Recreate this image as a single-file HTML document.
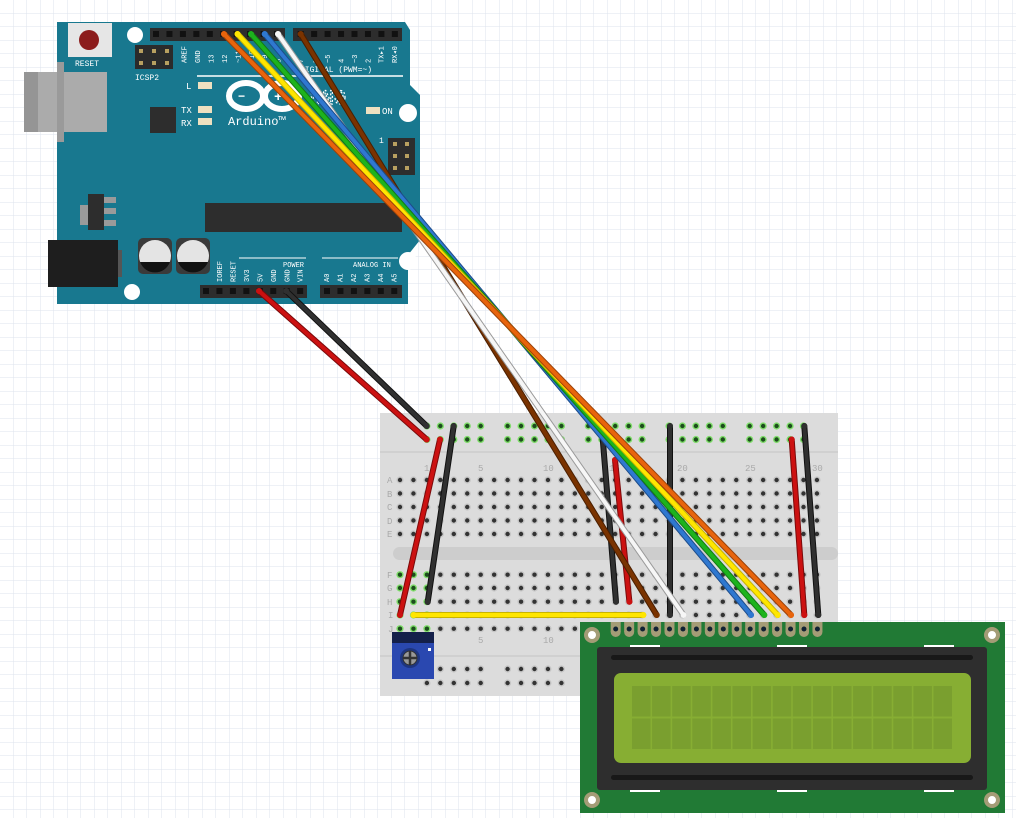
<!DOCTYPE html>
<html><head><meta charset="utf-8"><style>
html,body{margin:0;padding:0;background:#fff;}
svg{display:block}
text{font-family:"Liberation Mono",monospace;}
</style></head><body>
<svg id="s" width="1016" height="818" viewBox="0 0 1016 818" xmlns="http://www.w3.org/2000/svg">
<defs>
<pattern id="grid" width="13.5" height="13.5" patternUnits="userSpaceOnUse">
<path d="M13.5 0V13.5H0" fill="none" stroke="#dde3ec" stroke-width="1"/>
</pattern>
</defs>
<rect width="1016" height="818" fill="#fff"/>
<rect width="1016" height="818" fill="url(#grid)"/>

<!-- Arduino -->
<polygon points="57,22 405,22 410,30 410,85 420,95 420,240 408,255 408,304 57,304" fill="#18788f"/>
<rect x="24" y="72" width="83" height="60" fill="#ababab"/>
<rect x="24" y="72" width="14" height="60" fill="#959595"/>
<rect x="57" y="62" width="7" height="80" fill="#9a9a9a"/>
<rect x="68" y="23" width="44" height="34" fill="#e6e6e6"/>
<circle cx="89" cy="40" r="10" fill="#8c1c1c"/>
<text x="75" y="66" font-size="8" fill="#fff">RESET</text>
<rect x="135" y="45" width="38" height="24" fill="#2b2b2b"/>
<g fill="#b8a060"><rect x="139" y="49" width="4" height="4"/><rect x="152" y="49" width="4" height="4"/><rect x="165" y="49" width="4" height="4"/><rect x="139" y="61" width="4" height="4"/><rect x="152" y="61" width="4" height="4"/><rect x="165" y="61" width="4" height="4"/></g>
<text x="135" y="80" font-size="8" fill="#fff">ICSP2</text>
<rect x="150" y="107" width="26" height="26" fill="#2d2d2d"/>
<rect x="80" y="205" width="10" height="20" fill="#9a9a9a"/>
<rect x="88" y="194" width="16" height="36" fill="#2d2d2d"/>
<rect x="104" y="197" width="12" height="6" fill="#9a9a9a"/><rect x="104" y="208" width="12" height="6" fill="#9a9a9a"/><rect x="104" y="220" width="12" height="6" fill="#9a9a9a"/>
<rect x="48" y="240" width="70" height="47" fill="#1e1e1e"/>
<rect x="118" y="250" width="4" height="27" fill="#555"/>
<rect x="138" y="238" width="34" height="36" rx="5" fill="#3a3a3a"/>
<rect x="176" y="238" width="34" height="36" rx="5" fill="#3a3a3a"/>
<circle cx="155" cy="256" r="16" fill="#e4e4e4"/><path d="M140 262 A16 16 0 0 0 170 262Z" fill="#111"/>
<circle cx="193" cy="256" r="16" fill="#e4e4e4"/><path d="M178 262 A16 16 0 0 0 208 262Z" fill="#111"/>
<rect x="205" y="203" width="197" height="29" fill="#2d2d2d"/>
<circle cx="135" cy="35" r="8" fill="#fff"/>
<circle cx="132" cy="292" r="8" fill="#fff"/>
<circle cx="408" cy="113" r="9" fill="#fff"/>
<circle cx="408" cy="261" r="9" fill="#fff"/>
<!-- headers -->
<rect x="150" y="28" width="135" height="13" fill="#2d2d2d"/>
<rect x="293" y="28" width="109" height="13" fill="#2d2d2d"/>
<rect x="200" y="285" width="107" height="13" fill="#2d2d2d"/>
<rect x="320" y="285" width="82" height="13" fill="#2d2d2d"/>
<g id="hp" fill="#111"></g>
<rect x="388" y="138" width="27" height="37" fill="#2d2d2d"/>
<g fill="#b8a060"><rect x="393" y="142" width="4" height="4"/><rect x="405" y="142" width="4" height="4"/><rect x="393" y="154" width="4" height="4"/><rect x="405" y="154" width="4" height="4"/><rect x="393" y="166" width="4" height="4"/><rect x="405" y="166" width="4" height="4"/></g>
<text x="379" y="143" font-size="8" fill="#fff">1</text>
<line x1="197" y1="76" x2="403" y2="76" stroke="#fff" stroke-width="1.5"/>
<line x1="239" y1="258" x2="306" y2="258" stroke="#fff" stroke-width="1"/>
<line x1="322" y1="258" x2="398" y2="258" stroke="#fff" stroke-width="1"/>
<text x="300" y="72" font-size="8" fill="#fff">DIGITAL (PWM=~)</text>
<text x="283" y="267" font-size="7" fill="#fff">POWER</text>
<text x="353" y="267" font-size="7" fill="#fff">ANALOG IN</text>
<g font-size="7" fill="#fff" id="plab"></g>
<g stroke="#fff" stroke-width="6" fill="none">
<ellipse cx="246" cy="96" rx="17" ry="13"/><ellipse cx="282" cy="96" rx="17" ry="13"/>
</g>
<text x="238" y="100" font-size="12" fill="#fff" font-weight="bold">−</text>
<text x="274" y="101" font-size="14" fill="#fff" font-weight="bold">+</text>
<text x="310" y="104" font-size="20" fill="none" stroke="#fff" stroke-width="1.2" stroke-dasharray="2 2">UNO</text>
<text x="228" y="125" font-size="12" fill="#fff">Arduino™</text>
<text x="186" y="89" font-size="9" fill="#fff">L</text>
<rect x="198" y="82" width="14" height="7" fill="#eee0c0"/>
<text x="181" y="113" font-size="9" fill="#fff">TX</text>
<rect x="198" y="106" width="14" height="7" fill="#eee0c0"/>
<text x="181" y="126" font-size="9" fill="#fff">RX</text>
<rect x="198" y="118" width="14" height="7" fill="#eee0c0"/>
<rect x="366" y="107" width="14" height="7" fill="#eee0c0"/>
<text x="382" y="114" font-size="9" fill="#fff">ON</text>

<!-- Breadboard -->
<rect x="380" y="413" width="458" height="283" fill="#dcdcdc"/>
<line x1="380" y1="452" x2="838" y2="452" stroke="#c4c4c4"/>
<line x1="380" y1="656" x2="838" y2="656" stroke="#c4c4c4"/>
<rect x="393" y="547" width="445" height="13" rx="6.5" fill="#cdcdcd"/>
<g id="bb"></g>
<g font-family="Liberation Sans" font-size="9" fill="#aaa">
<text x="424" y="471">1</text><text x="478" y="471">5</text><text x="543" y="471">10</text><text x="609" y="471">15</text><text x="677" y="471">20</text><text x="745" y="471">25</text><text x="812" y="471">30</text>
<text x="478" y="643">5</text><text x="543" y="643">10</text>
<text x="387" y="483">A</text><text x="387" y="497">B</text><text x="387" y="510">C</text><text x="387" y="524">D</text><text x="387" y="537">E</text>
<text x="387" y="578">F</text><text x="387" y="591">G</text><text x="387" y="605">H</text><text x="388" y="618">I</text><text x="388" y="632">J</text>
</g>
<!-- pot -->
<rect x="392" y="632" width="42" height="47" fill="#2a48b0"/>
<rect x="392" y="632" width="42" height="11" fill="#14204a"/>
<circle cx="410" cy="658" r="10" fill="#1e3580"/>
<circle cx="410" cy="658" r="7" fill="#999" stroke="#333" stroke-width="1"/>
<path d="M410 651V665M403 658H417" stroke="#333" stroke-width="2.5"/>
<rect x="428" y="648" width="3" height="3" fill="#fff"/>

<!-- LCD -->
<rect x="580" y="622" width="425" height="191" fill="#217a35"/>
<g id="lcdp"></g>
<g fill="#fff" stroke="#a49c76" stroke-width="4">
<circle cx="592" cy="635" r="6"/><circle cx="992" cy="635" r="6"/><circle cx="592" cy="800" r="6"/><circle cx="992" cy="800" r="6"/>
</g>
<g fill="#fff"><rect x="630" y="645" width="30" height="3"/><rect x="777" y="645" width="30" height="3"/><rect x="924" y="645" width="30" height="3"/>
<rect x="630" y="789" width="30" height="3"/><rect x="777" y="789" width="30" height="3"/><rect x="924" y="789" width="30" height="3"/></g>
<rect x="597" y="647" width="390" height="143" rx="3" fill="#2e2e2e"/>
<rect x="611" y="655" width="362" height="5" rx="2.5" fill="#181818"/>
<rect x="611" y="775" width="362" height="5" rx="2.5" fill="#181818"/>
<rect x="614" y="673" width="357" height="90" rx="7" fill="#87ae33"/>
<g id="chars" fill="#7a9f2f"></g>

<g id="wires"></g>
</svg>
<script>
var NS="http://www.w3.org/2000/svg";
function el(p,t,a){var e=document.createElementNS(NS,t);for(var k in a)e.setAttribute(k,a[k]);p.appendChild(e);return e;}
var hp=document.getElementById("hp");
for(var i=0;i<10;i++)el(hp,"rect",{x:153+i*13.45,y:31,width:6,height:6});
for(var i=0;i<8;i++)el(hp,"rect",{x:297.7+i*13.45,y:31,width:6,height:6});
for(var i=0;i<8;i++)el(hp,"rect",{x:203+i*13.45,y:288,width:6,height:6});
for(var i=0;i<6;i++)el(hp,"rect",{x:324+i*13.45,y:288,width:6,height:6});
var pl=document.getElementById("plab");
var labs=["AREF","GND","13","12","~11","~10","~9","8"];
for(var i=0;i<labs.length;i++){var t=el(pl,"text",{transform:"translate("+(186.5+i*13.45)+",63) rotate(-90)"});t.textContent=labs[i];}
var l2=["7","~6","~5","4","~3","2","TX▸1","RX◂0"];
for(var i=0;i<l2.length;i++){var t=el(pl,"text",{transform:"translate("+(303+i*13.45)+",63) rotate(-90)"});t.textContent=l2[i];}
var l3=["IOREF","RESET","3V3","5V","GND","GND","VIN"];
for(var i=0;i<l3.length;i++){var t=el(pl,"text",{transform:"translate("+(222+i*13.45)+",282) rotate(-90)"});t.textContent=l3[i];}
var l4=["A0","A1","A2","A3","A4","A5"];
for(var i=0;i<l4.length;i++){var t=el(pl,"text",{transform:"translate("+(329+i*13.45)+",282) rotate(-90)"});t.textContent=l4[i];}
var bb=document.getElementById("bb");
function dot(x,y,g){el(bb,"circle",{cx:x,cy:y,r:3.6,fill:g?"#7fdc6a":"#c6c6c6"});el(bb,"circle",{cx:x,cy:y,r:2.2,fill:g?"#1d4d1d":"#333"});}
function X(i){return 400+13.45*i;}
var rowsT=[480,493.5,507,520.5,534],rowsB=[574.7,588,601.7,615,628.7];
for(var i=0;i<32;i++){rowsT.forEach(function(y){dot(X(i),y,false)});rowsB.forEach(function(y){dot(X(i),y,i<3)});}
[2,8,14,20,26].forEach(function(s){for(var k=0;k<5;k++){dot(X(s+k),426,true);dot(X(s+k),439.5,true);}});
[2,8,14].forEach(function(s){for(var k=0;k<5;k++){dot(X(s+k),669,false);dot(X(s+k),683,false);}});
var lp=document.getElementById("lcdp");
for(var i=0;i<16;i++){var x=615.7+i*13.45;el(lp,"rect",{x:x-5,y:622,width:10,height:10,fill:"#a49c76"});el(lp,"circle",{cx:x,cy:632,r:5,fill:"#a49c76"});el(lp,"circle",{cx:x,cy:629,r:2.5,fill:"#123"});}
var ch=document.getElementById("chars");
for(var r=0;r<2;r++)for(var c=0;c<16;c++)el(ch,"rect",{x:632+c*20.1,y:686+r*32.5,width:18.5,height:30.5});
var w=document.getElementById("wires");
function wire(x1,y1,x2,y2,c,o){el(w,"line",{x1:x1,y1:y1,x2:x2,y2:y2,stroke:o,"stroke-width":6,"stroke-linecap":"round"});el(w,"line",{x1:x1,y1:y1,x2:x2,y2:y2,stroke:c,"stroke-width":4,"stroke-linecap":"round"});el(w,"circle",{cx:x1,cy:y1,r:3,fill:c});el(w,"circle",{cx:x2,cy:y2,r:3,fill:c});}
wire(259,291,426.7,439.5,"#cc1111","#7a0a0a");
wire(286.3,291,426.7,426,"#303030","#111");
wire(440,439.5,400,615,"#cc1111","#7a0a0a");
wire(453.7,426,427.7,602,"#303030","#111");
wire(602,430,616,601.7,"#303030","#111");
wire(615,460,629.4,601.7,"#cc1111","#7a0a0a");
wire(670,426,670,615,"#303030","#111");
wire(791.7,439.5,804.3,615,"#cc1111","#7a0a0a");
wire(804.3,426,818.3,615,"#303030","#111");
wire(413.5,615,643.3,615,"#ffe600","#c8b400");
wire(300.7,34,656.7,615,"#7a3300","#4a1f00");
wire(278,34,683.5,615,"#f6f6f6","#9a9a9a");
wire(264.7,34,751,615,"#2f78d0","#1d4c8a");
wire(251,34,764.3,615,"#1db31d","#137a13");
wire(237.5,34,777.7,615,"#ffe600","#c8b400");
wire(224,34,791,615,"#e8640c","#9a420a");
</script>
</body></html>
